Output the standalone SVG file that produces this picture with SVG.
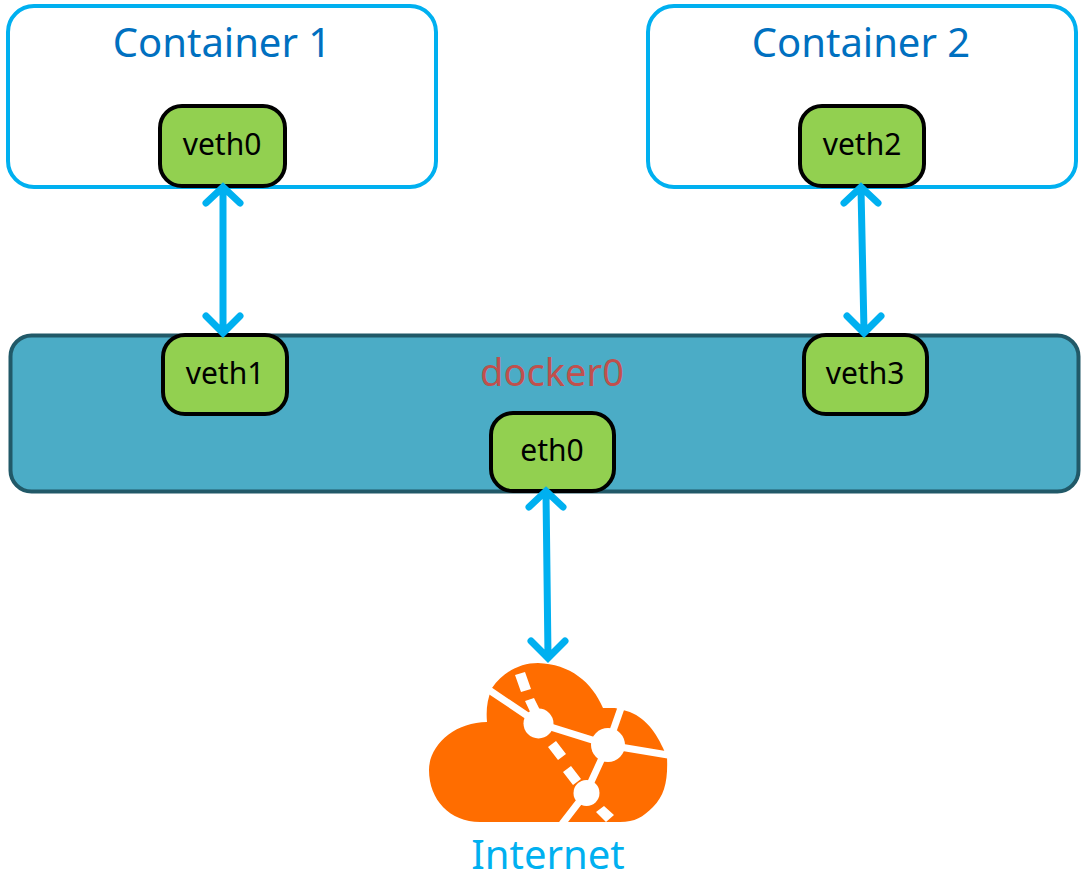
<svg xmlns="http://www.w3.org/2000/svg" width="1090" height="874" viewBox="0 0 1090 874">
<style>
text{font-family:"Noto Sans","Liberation Sans",sans-serif;text-anchor:middle}
.box{fill:#fff;stroke:#00b0f0;stroke-width:4}
.port{fill:#92d050;stroke:#000;stroke-width:4}
.pl{font-size:30px;fill:#000}
.title{font-size:40px;fill:#0070c0}
.conn{fill:none;stroke:#00b0f0;stroke-width:7;stroke-linecap:round;stroke-linejoin:miter}
.cut{fill:none;stroke:#fff;stroke-width:7}
.dash{fill:#fff}
</style>
<g id="container1"><rect class="box" x="8" y="6" width="428" height="181" rx="26"/><text class="title" x="222" y="57">Container 1</text></g>
<g id="container2"><rect class="box" x="648" y="6" width="428" height="181" rx="26"/><text class="title" x="861" y="57">Container 2</text></g>
<g id="docker0"><rect x="10.500" y="335.500" width="1068" height="156" rx="21" fill="#4bacc6" stroke="#215968" stroke-width="4"/><text x="552" y="386" font-size="38" fill="#c0504d">docker0</text></g>
<g id="veth0"><rect class="port" x="160" y="106" width="125" height="80" rx="22"/><text class="pl" x="222" y="155">veth0</text></g>
<g id="veth2"><rect class="port" x="800" y="106" width="124" height="80" rx="22"/><text class="pl" x="862" y="155">veth2</text></g>
<g id="veth1"><rect class="port" x="163" y="335" width="124" height="79" rx="22"/><text class="pl" x="225" y="384">veth1</text></g>
<g id="veth3"><rect class="port" x="804" y="335" width="123" height="79" rx="22"/><text class="pl" x="865" y="384">veth3</text></g>
<g id="eth0"><rect class="port" x="491" y="413" width="123" height="78" rx="22"/><text class="pl" x="552" y="461">eth0</text></g>
<g id="connectors">
<path class="conn" d="M223 189V331M206 203L223 187L240 203M206 316L223 333L240 316"/>
<path class="conn" d="M861 189L864 331M844 203L861 187L878 203M847 316L864 333L881 316"/>
<path class="conn" d="M546 493L548 656M529 507L546 491L563 507M531 641L548 658L565 641"/>
</g>
<g id="internet">
<path d="M487 722C486 710 487 700 492 688C503 672 520 663 538 663C570 664 592 682 603 708L615 708L623 710C642 714 655 730 663 748L667 757C668 780 665 795 653 807C643 817 635 822 620 822L480 822C450 822 429 800 429 770C429 745 455 722 487 722Z" fill="#ff6d00"/>
<path class="cut" d="M489 690L538 723L608 745L586 793L562 824"/>
<path class="cut" d="M608 745L621 708"/>
<path class="cut" d="M608 745L668 755"/>
<circle class="dash" cx="538.500" cy="723.500" r="15"/><circle class="dash" cx="608" cy="745" r="17"/><circle class="dash" cx="586.500" cy="793" r="13"/>
<path class="dash" d="M515 675l10-3 6 17-10 3zM525 701l9-3 7 14-9 4zM548 747l8-6 10 13-8 6zM563 772l8-6 10 13-8 6zM596 812l8-6 10 9-8 7z"/>
<text x="548" y="869" font-size="40" fill="#00b0f0">Internet</text>
</g>
</svg>
